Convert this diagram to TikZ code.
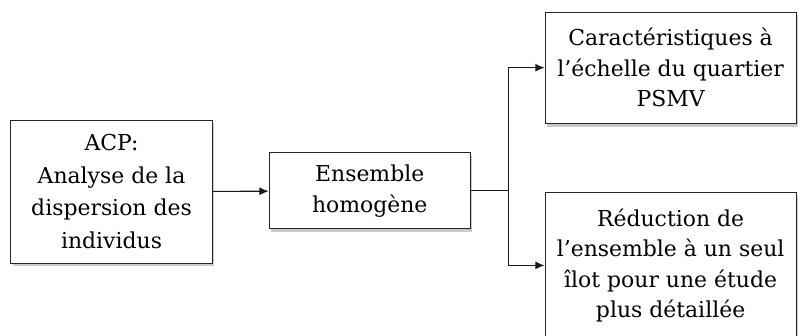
\documentclass[tikz,border=0pt]{standalone}
\usepackage{fontspec}
\setmainfont{DejaVu Serif}
\usepackage{tikz}
\usetikzlibrary{arrows.meta,positioning,calc,shadows}

\begin{document}
\begin{tikzpicture}[
        every node/.style={font=\fontsize{16.5}{23}\selectfont, text=black},
        stage/.style={rectangle, draw=black!85, line width=0.8pt, fill=white, align=center, inner sep=4pt,
            drop shadow={shadow xshift=1.5pt, shadow yshift=-2.5pt, opacity=0.35, fill=black!60}},
        arrow/.style={-{Latex[length=7pt,width=6pt]}, line width=0.8pt, draw=black!90},
    ]
        \useasboundingbox (0,0) rectangle (21.11,-8.865);

        \node[stage, minimum width=5.32cm, minimum height=3.78cm,
              font=\fontsize{16.5}{24.5}\selectfont] (acp) at (2.95,-5.07) {
            ACP:\\
            Analyse de la\\
            dispersion des\\
            individus
        };
        \node[stage, minimum width=5.32cm, minimum height=2.01cm] (ens) at (9.78,-5.05) {
            Ensemble\\
            homogène
        };
        \node[stage, minimum width=6.64cm, minimum height=2.94cm] (car) at (17.74,-1.79) {
            Caractéristiques à\\
            l’échelle du quartier\\
            PSMV
        };
        \node[stage, minimum width=6.64cm, minimum height=3.84cm] (red) at (17.74,-7.02) {
            Réduction de\\
            l’ensemble à un seul\\
            îlot pour une étude\\
            plus détaillée
        };

        \coordinate (split) at ($(ens.east)+(1.0,0)$);

        \draw[arrow] (acp) -- (ens);
        \draw[line width=0.8pt, draw=black!90] (ens.east) -- (split);
        \draw[arrow] (split) |- (car.west);
        \draw[arrow] (split) |- (red.west);

    \end{tikzpicture}
\end{document}
